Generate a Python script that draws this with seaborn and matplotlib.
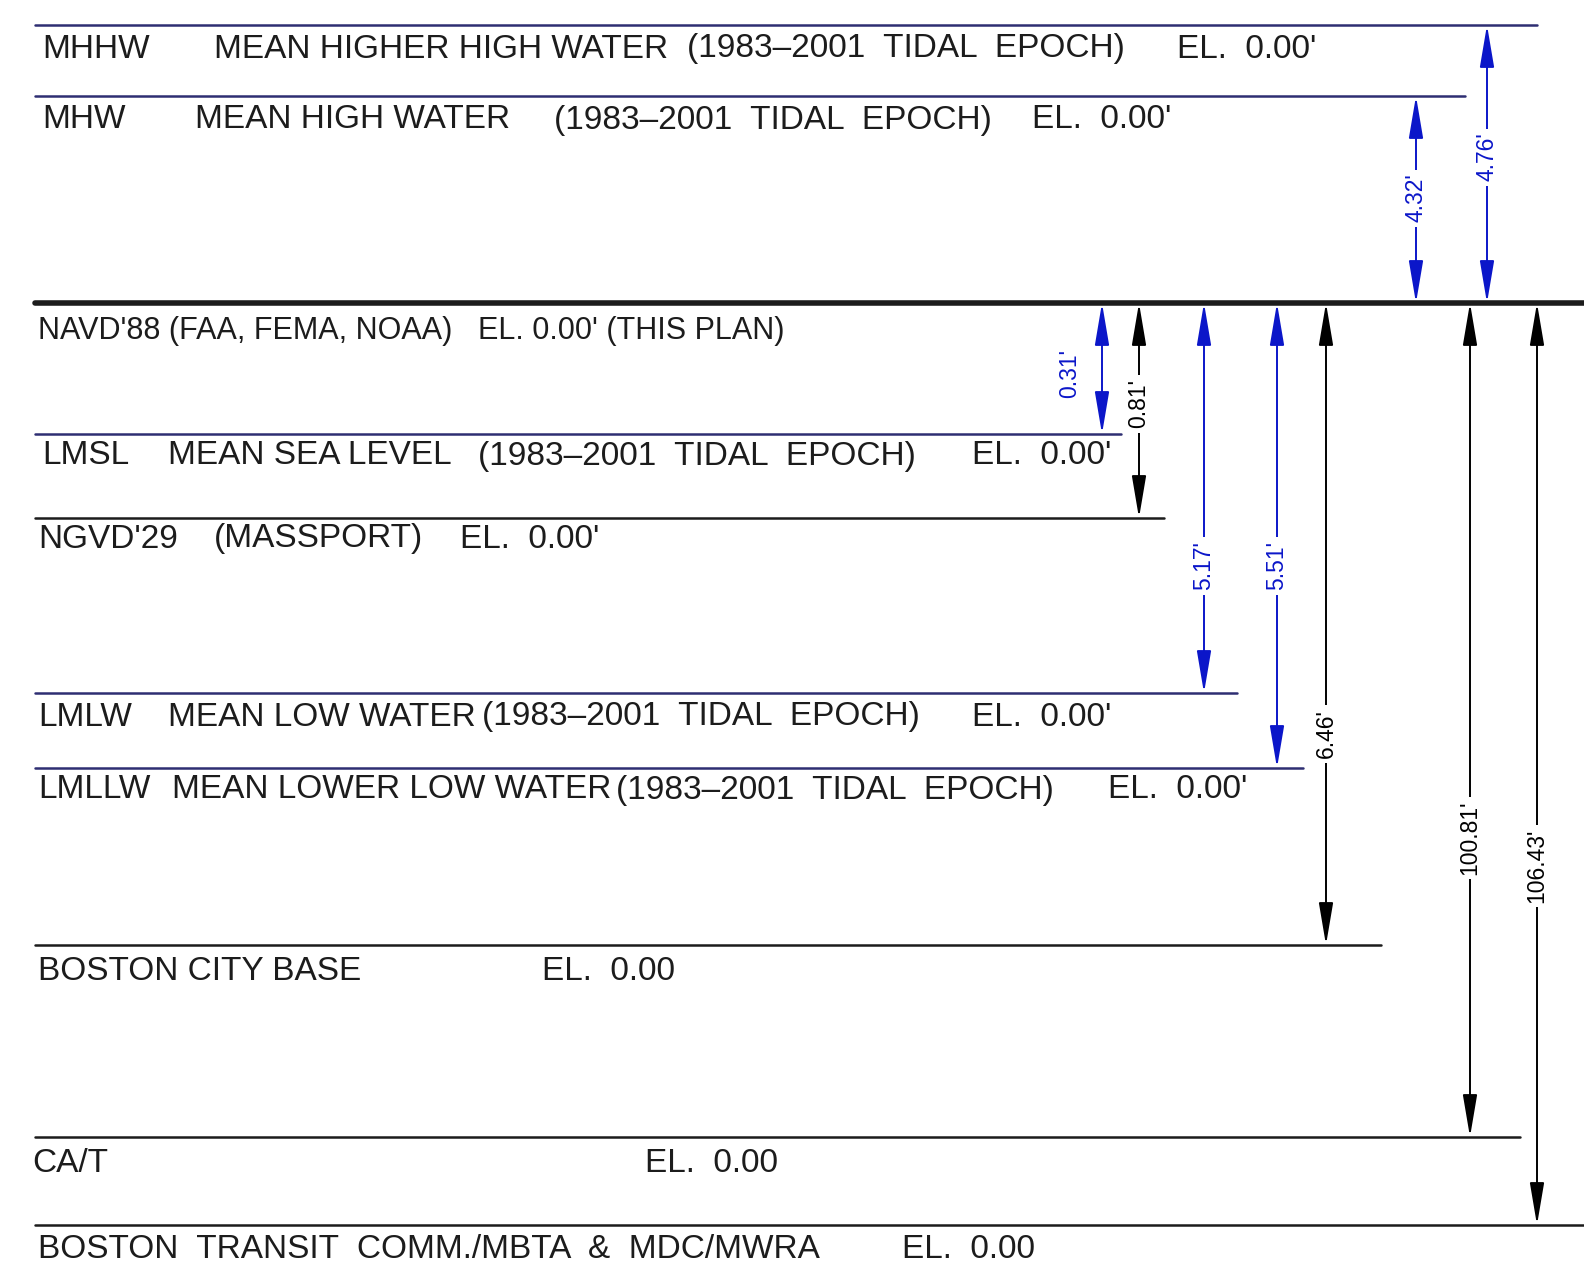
import pandas as pd
import matplotlib.pyplot as plt
import seaborn as sns

# ----- data: datums and their elevation relative to NAVD'88 (ft) -----
datums = ["MHHW", "MHW", "NAVD'88", "LMSL", "NGVD'29", "LMLW", "LMLLW",
          "BOSTON CITY BASE", "CA/T", "BOSTON TRANSIT"]
elev = [4.76, 4.32, 0.00, -0.31, -0.81, -5.17, -5.51, -6.46, -100.81, -106.43]

# dimension pairs (from datum, to datum)
dim_pairs = [("MHW", "NAVD'88"), ("MHHW", "NAVD'88"), ("NAVD'88", "LMSL"),
             ("NAVD'88", "NGVD'29"), ("NAVD'88", "LMLW"), ("NAVD'88", "LMLLW"),
             ("NAVD'88", "BOSTON CITY BASE"), ("NAVD'88", "CA/T"),
             ("NAVD'88", "BOSTON TRANSIT")]

# label text pieces for each datum row
row_labels = [
    ["MHHW", "MEAN HIGHER HIGH WATER", "(1983\u20132001  TIDAL  EPOCH)", "EL.  0.00'"],
    ["MHW", "MEAN HIGH WATER", "(1983\u20132001  TIDAL  EPOCH)", "EL.  0.00'"],
    ["NAVD'88 (FAA, FEMA, NOAA)", "EL. 0.00' (THIS PLAN)"],
    ["LMSL", "MEAN SEA LEVEL", "(1983\u20132001  TIDAL  EPOCH)", "EL.  0.00'"],
    ["NGVD'29", "(MASSPORT)", "EL.  0.00'"],
    ["LMLW", "MEAN LOW WATER", "(1983\u20132001  TIDAL  EPOCH)", "EL.  0.00'"],
    ["LMLLW", "MEAN LOWER LOW WATER", "(1983\u20132001  TIDAL  EPOCH)", "EL.  0.00'"],
    ["BOSTON CITY BASE", "EL.  0.00"],
    ["CA/T", "EL.  0.00"],
    ["BOSTON  TRANSIT  COMM./MBTA  &  MDC/MWRA", "EL.  0.00"],
]

# ----- layout (schematic drawing, not to scale) -----
draw_y = [25, 96, 303, 434, 518, 693, 768, 945, 1137, 1225]
line_end = [1537, 1465, 1584, 1121, 1164, 1237, 1303, 1381, 1520, 1584]
text_y = [49, 120, 331, 456, 539, 717, 790, 971, 1163, 1249]
text_x = [
    [42, 214, 687, 1177],
    [42, 195, 554, 1032],
    [38, 478],
    [42, 168, 478, 972],
    [38, 214, 460],
    [38, 168, 482, 972],
    [38, 172, 616, 1108],
    [38, 542],
    [32, 645],
    [38, 902],
]
blue_lines = {"MHHW", "MHW", "LMSL", "LMLW", "LMLLW"}
dim_x = [1416, 1487, 1102, 1139, 1204, 1277, 1326, 1470, 1537]
dim_label_y = [198, 157, 373, 404, 566, 566, 734, 838, 866]
dim_blue = [True, True, True, False, True, True, False, False, False]

DIM_BLUE = "#0b16c9"
LINE_NAVY = "#2e2e72"
INK = "#1c1c1c"

sns.set_style("white")
plt.rcParams["font.family"] = ["Liberation Sans", "DejaVu Sans"]

fig, ax = plt.subplots(figsize=(15.84, 12.72), dpi=100)
ax.set_position([0, 0, 1, 1])

# datum lines through seaborn
rows = []
for name, y, x1 in zip(datums, draw_y, line_end):
    rows.append({"datum": name, "x": 35, "y": y})
    rows.append({"datum": name, "x": x1, "y": y})
df = pd.DataFrame(rows)
palette = {d: (LINE_NAVY if d in blue_lines else INK) for d in datums}
sizes = {d: (4.0 if d == "NAVD'88" else 1.8) for d in datums}
sns.lineplot(data=df, x="x", y="y", hue="datum", size="datum", palette=palette,
             sizes=sizes, estimator=None, sort=False, legend=False, ax=ax)

# labels
for i, parts in enumerate(row_labels):
    fs = 22 if datums[i] == "NAVD'88" else 24
    for txt, x in zip(parts, text_x[i]):
        ax.text(x, text_y[i], txt, fontsize=fs, color=INK, ha="left", va="center")

# dimension arrows
pos = dict(zip(datums, draw_y))
el = dict(zip(datums, elev))
for (a, b), x, ly, isblue in zip(dim_pairs, dim_x, dim_label_y, dim_blue):
    c = DIM_BLUE if isblue else "black"
    ax.annotate("", xy=(x, pos[b]), xytext=(x, pos[a]),
                arrowprops=dict(arrowstyle="<|-|>,head_length=1.3,head_width=0.22",
                                color=c, lw=1.4, shrinkA=0, shrinkB=0,
                                mutation_scale=20))
    label = f"{abs(el[a] - el[b]):.2f}'"
    if a == "NAVD'88" and b == "LMSL":
        ax.text(x - 32, ly, label, rotation=90, ha="center", va="center",
                fontsize=16.5, color=c)
    else:
        ax.text(x, ly, label, rotation=90, ha="center", va="center",
                fontsize=16.5, color=c,
                bbox=dict(fc="white", ec="none", pad=3))

ax.set_xlim(0, 1584)
ax.set_ylim(1272, 0)
ax.axis("off")

plt.savefig("out.png", dpi=100)
plt.close()
